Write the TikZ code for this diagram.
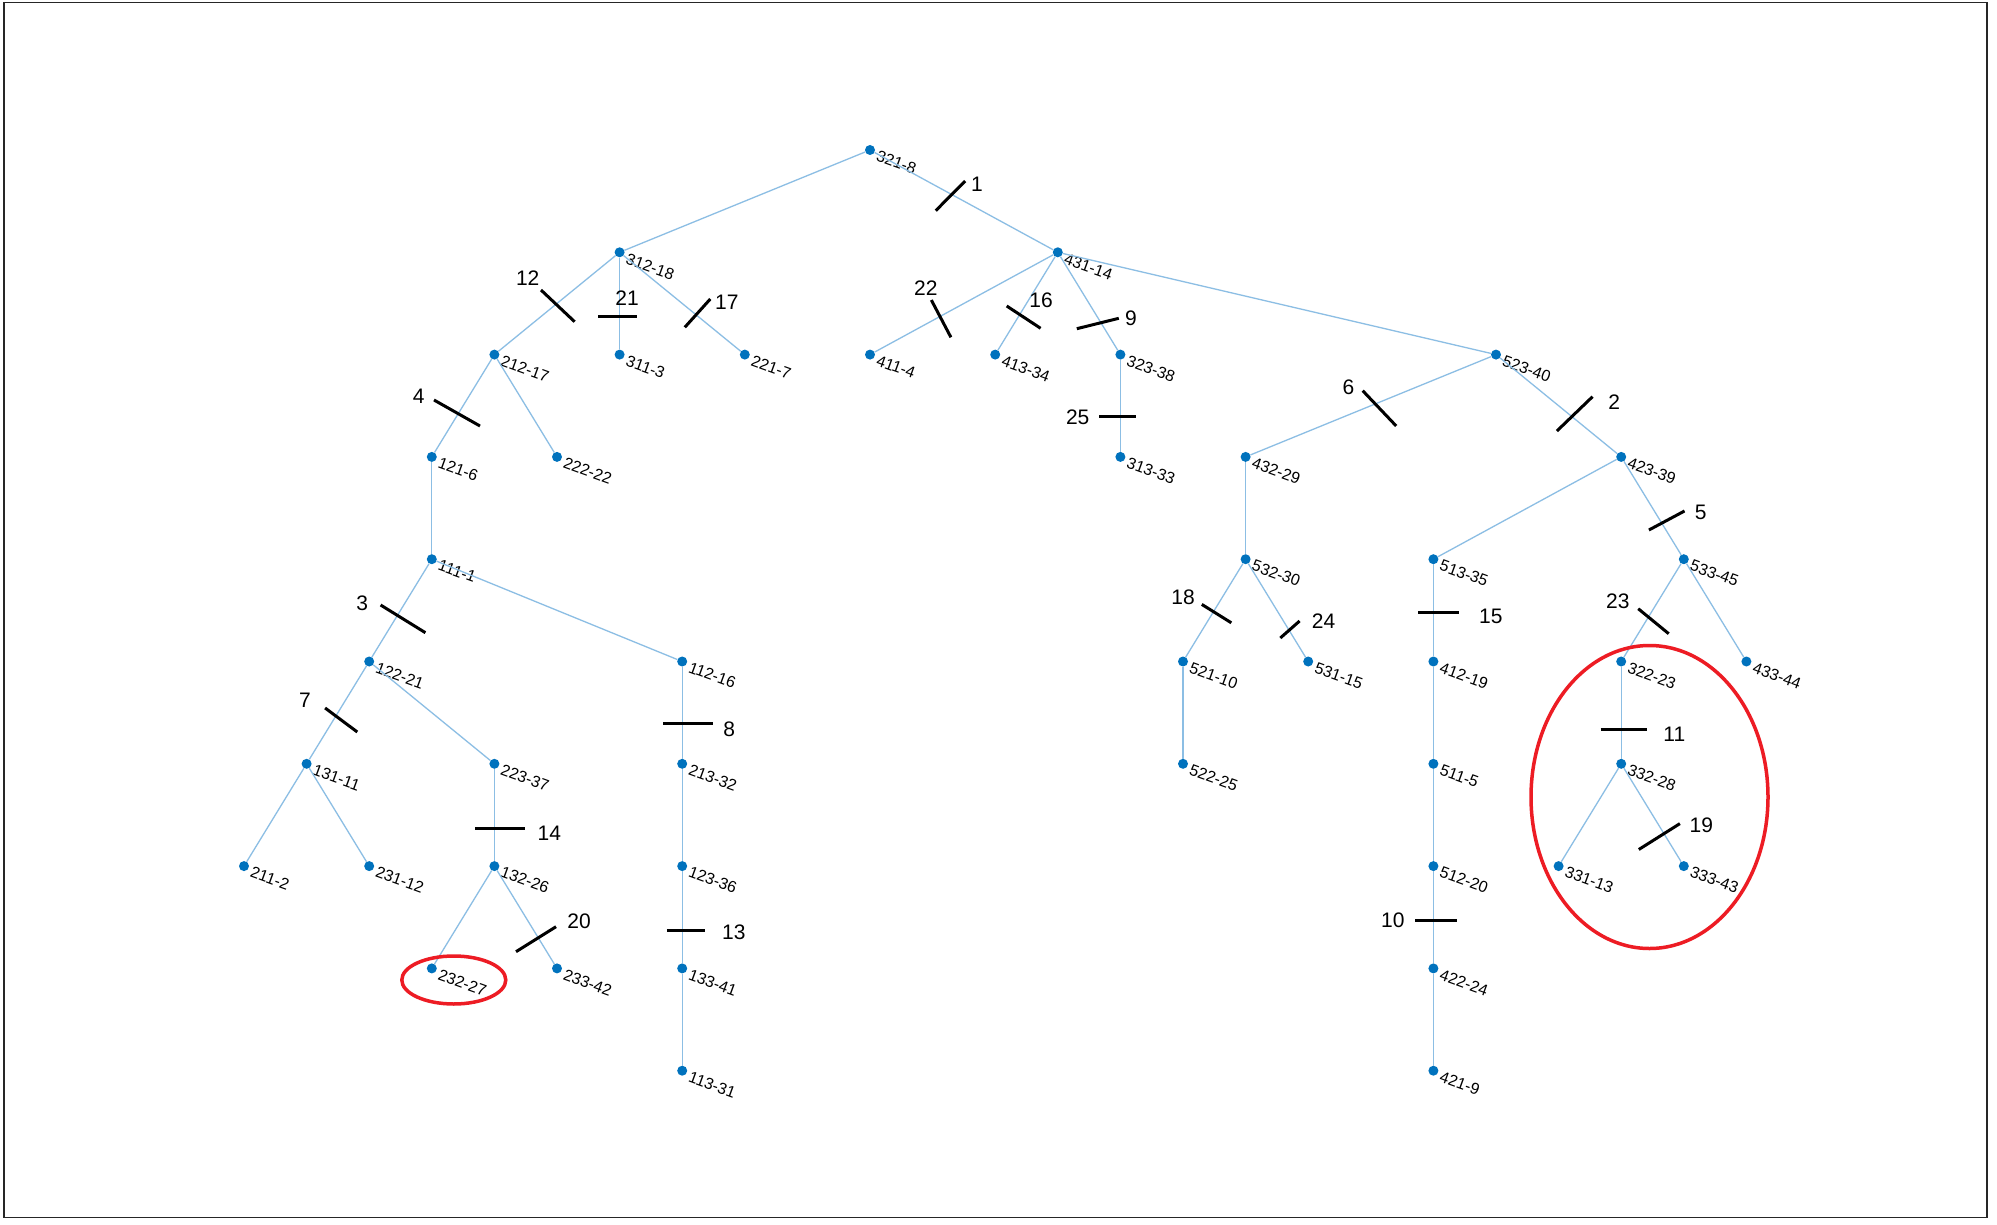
\documentclass[tikz,border=0pt]{standalone}
\usepackage{fontspec}
\setmainfont{Liberation Sans}
\definecolor{nodeblue}{RGB}{0,114,189}
\definecolor{edgeblue}{RGB}{140,190,228}
\definecolor{markred}{RGB}{237,28,36}
\definecolor{framegray}{RGB}{38,38,38}
\begin{document}
\begin{tikzpicture}[x=1pt,y=-1pt,
  dot/.style={circle,fill=nodeblue,inner sep=0pt,minimum size=10pt},
  lbl/.style={anchor=north west,rotate=-20,inner sep=0pt,font=\fontsize{16}{16}\selectfont},
  edge/.style={draw=edgeblue,line width=1.3pt},
  sw/.style={draw=black,line width=3pt},
  swnum/.style={inner sep=0pt,text=black,font=\fontsize{21}{21}\selectfont},
  ring/.style={draw=markred,line width=3.5pt},
  frame/.style={draw=framegray,line width=1.5pt}]
\useasboundingbox (0,0) rectangle (1997,1225);
\fill[white] (0,0) rectangle (1997,1225);
\draw[frame] (4,2.5) rectangle (1987,1217.5);

% network nodes: name / column / row / label
\foreach \n/\c/\r/\t in {
  321/0/0/321-8, 312/-4/1/312-18, 431/3/1/431-14,
  212/-6/2/212-17, 311/-4/2/311-3, 221/-2/2/221-7, 411/0/2/411-4,
  413/2/2/413-34, 323/4/2/323-38, 523/10/2/523-40,
  121/-7/3/121-6, 222/-5/3/222-22, 313/4/3/313-33, 432/6/3/432-29, 423/12/3/423-39,
  111/-7/4/111-1, 532/6/4/532-30, 513/9/4/513-35, 533/13/4/533-45,
  122/-8/5/122-21, 112/-3/5/112-16, 521/5/5/521-10, 531/7/5/531-15,
  412/9/5/412-19, 322/12/5/322-23, 433/14/5/433-44,
  131/-9/6/131-11, 223/-6/6/223-37, 213/-3/6/213-32, 522/5/6/522-25,
  511/9/6/511-5, 332/12/6/332-28,
  211/-10/7/211-2, 231/-8/7/231-12, 132/-6/7/132-26, 123/-3/7/123-36,
  512/9/7/512-20, 331/11/7/331-13, 333/13/7/333-43,
  232/-7/8/232-27, 233/-5/8/233-42, 133/-3/8/133-41, 422/9/8/422-24,
  113/-3/9/113-31, 421/9/9/421-9}
{
  \node[dot] (v\n) at ({870+62.6*\c},{150+102.3*\r}) {};
  \node[lbl] (t\n) at ([shift={(9,0)}]v\n.center) {\t};
}

% branches
\foreach \a/\b in {
  321/312, 321/431, 312/212, 312/311, 312/221,
  431/411, 431/413, 431/323, 431/523,
  212/121, 212/222, 323/313, 523/432, 523/423,
  121/111, 432/532, 423/513, 423/533,
  111/122, 111/112, 532/521, 532/531, 513/412, 533/322, 533/433,
  122/131, 122/223, 112/213, 521/522, 412/511, 322/332,
  131/211, 131/231, 223/132, 213/123, 511/512, 332/331, 332/333,
  132/232, 132/233, 123/133, 512/422, 133/113, 422/421}
{
  \draw[edge] (v\a) -- (v\b);
}

% switch marks with their numbers
\foreach \k/\ax/\ay/\bx/\by/\lx/\ly in {
  1/935.7/210.7/965.2/181/977/184,
  2/1556.9/431/1592.5/396.7/1614.3/401.7,
  3/380.6/605/425.4/632.7/362.3/603.3,
  4/434/400/480/426/418.8/396,
  5/1648.9/530/1684.5/511/1700.8/512.3,
  6/1362.7/390.7/1396.2/426/1348.4/387.3,
  7/325.1/708/357.3/732/304.9/700,
  8/663/723.3/712.8/723.3/729.3/729.3,
  9/1076.8/328.7/1118.8/318.3/1131/318.3,
  10/1415.2/920.1/1457.1/920.1/1392.9/920.5,
  11/1600.6/729.3/1647.4/729.3/1674.3/734.3,
  12/541/290/574.6/321.7/527.7/277.7,
  13/666.9/930/705.2/930/733.9/932.7,
  14/475.2/828.3/524.5/828.3/549.4/833.7,
  15/1418.1/612.3/1459.3/612.3/1490.8/616,
  16/1006.7/306/1040.6/328.3/1041/300,
  17/684.8/327.3/710.3/299/726.8/302.3,
  18/1201.8/604.4/1231.3/622.8/1183/596.9,
  19/1638.8/849.5/1679.9/823.6/1701.3/824.8,
  20/516/951.7/556/926.7/579/921.7,
  21/598.2/316/636.6/316/627/297.7,
  22/931.3/300/950.9/337.3/925.9/287.7,
  23/1638.2/608.7/1668.7/633.7/1617.9/601.7,
  24/1280.3/638/1299.6/621/1323.5/621,
  25/1099/416/1135.7/416/1077.7/417.7}
{
  \draw[sw] (\ax,\ay) -- (\bx,\by);
  \node[swnum] (s\k) at (\lx,\ly) {\k};
}

% highlighted areas
\draw[ring] (453.8,980) ellipse [x radius=52,y radius=24];
\draw[ring] (1649.5,797) ellipse [x radius=118.5,y radius=151.5];
\end{tikzpicture}
\end{document}
